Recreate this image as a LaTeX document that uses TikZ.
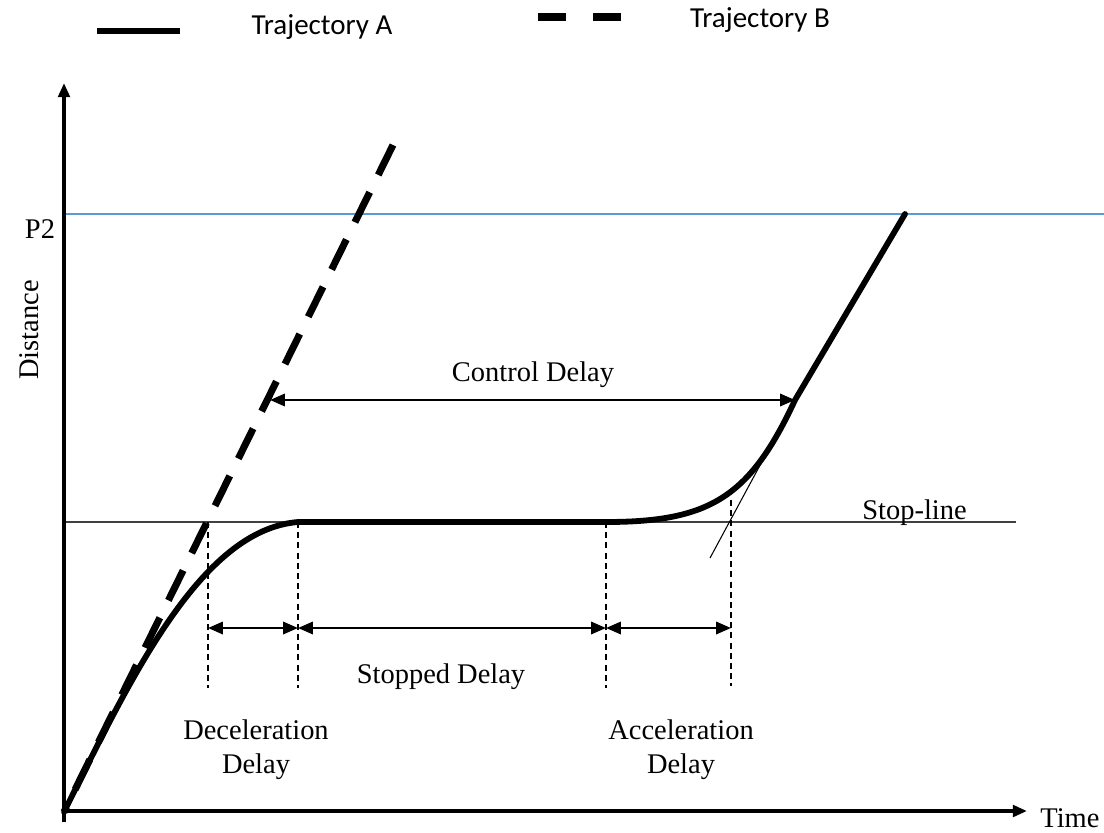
\documentclass[tikz,border=0pt]{standalone}
\usepackage{fontspec}
\setmainfont{Liberation Serif}
\newfontfamily\legendfont{Carlito}
\usetikzlibrary{arrows.meta}
\definecolor{refblue}{HTML}{5B9BD5}
\definecolor{stopgray}{HTML}{404040}
\begin{document}
\begin{tikzpicture}[x=0.02cm,y=-0.02cm,
  lbl/.style={font=\fontsize{16.2}{19.5}\selectfont, inner sep=0pt, align=center},
  leg/.style={font=\legendfont\fontsize{16.5}{19}\selectfont, inner sep=0pt},
  axis/.style={line width=2.8pt, -{Triangle[length=8pt,width=6.5pt]}},
  trajA/.style={line width=3.3pt, line cap=round, line join=round},
  trajB/.style={line width=4pt, dash pattern=on 19pt off 11pt},
  guide/.style={line width=0.6pt, dash pattern=on 3.4pt off 2.4pt},
  span/.style={line width=1.4pt, {Triangle[length=8.5pt,width=7pt]}-{Triangle[length=8.5pt,width=7pt]}}
]
\useasboundingbox (0,0) rectangle (1104,832);

% key points of the diagram
\coordinate (O) at (64,812);
\coordinate (ytop) at (64,83);
\coordinate (ybot) at (64,822);
\coordinate (xl) at (62,811);
\coordinate (xtip) at (1027,811);
\coordinate (p2l) at (66,214);
\coordinate (p2r) at (1104,214);
\coordinate (sl) at (64,522);
\coordinate (sr) at (1016,522);
\coordinate (stopA) at (298,522);
\coordinate (goA) at (606,522);
\coordinate (cdA) at (795,400);
\coordinate (endA) at (905,214);
\coordinate (endB) at (393,145);
\coordinate (cdB) at (270,400);
\coordinate (tanT) at (800,391);
\coordinate (tanB) at (710,558);

% reference line at P2 and the stop-line
\draw[refblue, line width=0.9pt] (p2l) -- (p2r);
\draw[stopgray, line width=0.7pt] (sl) -- (sr);

% axes
\draw[axis] (ybot) -- (ytop);
\draw[axis] (xl) -- (xtip);

% tangent to the departing trajectory
\draw[line width=0.6pt] (tanT) -- (tanB);

% trajectory B (unimpeded), dashes counted from its far end
\draw[trajB] (endB) -- (O);

% trajectory A (stopped at the stop-line)
\draw[trajA] (O) .. controls (130,680) and (200,530) .. (stopA) -- (goA)
  .. controls (710,522) and (750,497) .. (cdA) -- (endA);

% vertical guides
\coordinate (g1t) at (208,522); \coordinate (g1b) at (208,688);
\coordinate (g2t) at (298,522); \coordinate (g2b) at (298,688);
\coordinate (g3t) at (606,522); \coordinate (g3b) at (606,688);
\coordinate (g4t) at (731,500); \coordinate (g4b) at (731,686);
\draw[guide] (g1t) -- (g1b);
\draw[guide] (g2t) -- (g2b);
\draw[guide] (g3t) -- (g3b);
\draw[guide] (g4t) -- (g4b);

% delay spans
\coordinate (a1) at (208,628); \coordinate (a2) at (298,628);
\coordinate (a3) at (606,628); \coordinate (a4) at (731,628);
\draw[span] (a1) -- (a2);
\draw[span] (a2) -- (a3);
\draw[span] (a3) -- (a4);
\draw[span] (cdB) -- (cdA);

% labels
\node[lbl] (ctl) at (533,375) {Control Delay};
\node[lbl] (stp) at (441,677) {Stopped Delay};
\node[lbl] (dec) at (256,750) {Deceleration\\Delay};
\node[lbl] (acc) at (681,750) {Acceleration\\Delay};
\node[lbl, anchor=south west] (stl) at (862,526) {Stop-line};
\node[lbl] (p2) at (40,229) {P2};
\node[lbl, rotate=90] (dist) at (29,330) {Distance};
\node[lbl, anchor=west] (time) at (1040,818) {Time};

% legend
\coordinate (la1) at (97,31); \coordinate (la2) at (180,31);
\draw[line width=3.6pt] (la1) -- (la2);
\node[leg] (legA) at (322,27) {Trajectory A};
\coordinate (lb1) at (538,17); \coordinate (lb2) at (566,17);
\coordinate (lb3) at (593,17); \coordinate (lb4) at (621,17);
\draw[line width=4.5pt] (lb1) -- (lb2);
\draw[line width=4.5pt] (lb3) -- (lb4);
\node[leg] (legB) at (760,20) {Trajectory B};
\end{tikzpicture}
\end{document}
